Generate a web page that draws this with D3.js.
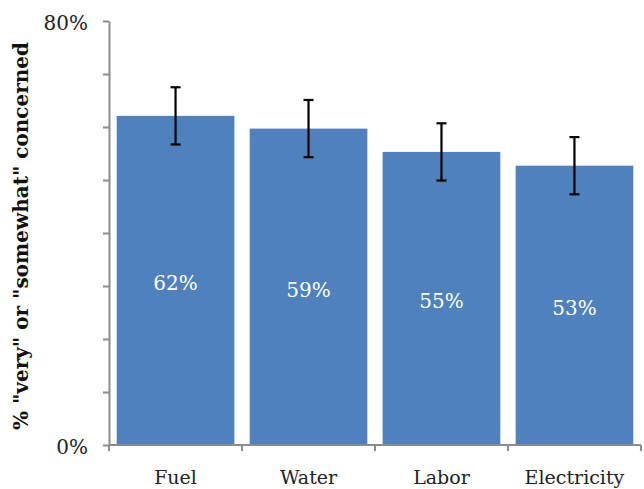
<!DOCTYPE html>
<html>
<head>
<meta charset="utf-8">
<script src="https://cdn.jsdelivr.net/npm/d3@7"></script>
<style>
  body { margin: 0; background: #fff; }
  text { font-family: "DejaVu Serif", "Liberation Serif", serif; }
</style>
</head>
<body>
<svg id="chart" width="644" height="489"></svg>
<script>
// data
var categories = ["Fuel", "Water", "Labor", "Electricity"];
var values = [62.1, 59.7, 55.3, 52.7];
var valueLabels = ["62%", "59%", "55%", "53%"];
var errors = [5.4, 5.4, 5.4, 5.4];
var yTicks = [0, 10, 20, 30, 40, 50, 60, 70, 80];
var yTickLabels = ["0%", "", "", "", "", "", "", "", "80%"];

// plot edges (window.top is taken, so no "top" here)
var plotL = 109, plotR = 641, plotT = 21, plotB = 445;

var svg = d3.select("#chart");

var x = d3.scaleBand()
    .domain(categories)
    .range([plotL, plotR])
    .paddingInner(0.115)
    .paddingOuter(0.058);

var y = d3.scaleLinear()
    .domain([0, 80])
    .range([plotB, plotT]);

var cx = function(i) { return x(categories[i]) + x.bandwidth() / 2; };

// bars
svg.selectAll(".bar")
    .data(values)
    .enter()
    .append("rect")
    .attr("class", "bar")
    .attr("x", function(d, i) { return x(categories[i]); })
    .attr("width", x.bandwidth())
    .attr("y", function(d) { return y(d); })
    .attr("height", function(d) { return y(0) - y(d); })
    .attr("fill", "#4f81bd");

// error bars
var eb = svg.selectAll(".err")
    .data(values)
    .enter()
    .append("g")
    .attr("class", "err")
    .attr("stroke", "#000")
    .attr("stroke-width", 2.2);

eb.append("line")
    .attr("x1", function(d, i) { return cx(i); })
    .attr("x2", function(d, i) { return cx(i); })
    .attr("y1", function(d, i) { return y(d + errors[i]); })
    .attr("y2", function(d, i) { return y(d - errors[i]); });

eb.append("line")
    .attr("x1", function(d, i) { return cx(i) - 5; })
    .attr("x2", function(d, i) { return cx(i) + 5; })
    .attr("y1", function(d, i) { return y(d + errors[i]); })
    .attr("y2", function(d, i) { return y(d + errors[i]); });

eb.append("line")
    .attr("x1", function(d, i) { return cx(i) - 5; })
    .attr("x2", function(d, i) { return cx(i) + 5; })
    .attr("y1", function(d, i) { return y(d - errors[i]); })
    .attr("y2", function(d, i) { return y(d - errors[i]); });

// value labels inside bars
svg.selectAll(".vlabel")
    .data(values)
    .enter()
    .append("text")
    .attr("class", "vlabel")
    .attr("x", function(d, i) { return cx(i); })
    .attr("y", function(d) { return (y(d) + y(0)) / 2 + 10; })
    .attr("text-anchor", "middle")
    .attr("fill", "#fff")
    .attr("font-size", 20)
    .text(function(d, i) { return valueLabels[i]; });

// y axis
var yAxis = svg.append("g")
    .attr("transform", "translate(" + plotL + ",0)")
    .call(d3.axisLeft(y).tickValues(yTicks).tickSize(6).tickSizeOuter(0)
        .tickFormat(function(d, i) { return yTickLabels[i]; }));
yAxis.select(".domain").attr("stroke", "#8c8c8c").attr("stroke-width", 2);
yAxis.selectAll(".tick line").attr("stroke", "#8c8c8c").attr("stroke-width", 2);
yAxis.selectAll(".tick text")
    .attr("font-family", "DejaVu Serif, serif")
    .attr("font-size", 20)
    .attr("fill", "#222")
    .attr("dy", "0.42em")
    .attr("x", -21);

// x axis
var xAxis = svg.append("g")
    .attr("transform", "translate(0," + plotB + ")");
xAxis.append("line")
    .attr("x1", plotL).attr("x2", plotR)
    .attr("stroke", "#8c8c8c").attr("stroke-width", 2);
var boundaries = categories.map(function(c) { return x(c) + x.bandwidth() + x.step() * x.paddingInner() / 2; });
boundaries.unshift(plotL);
xAxis.selectAll(".xt")
    .data(boundaries)
    .enter()
    .append("line")
    .attr("x1", function(d) { return d; })
    .attr("x2", function(d) { return d; })
    .attr("y1", 0).attr("y2", 6)
    .attr("stroke", "#8c8c8c").attr("stroke-width", 2);
xAxis.selectAll(".xl")
    .data(categories)
    .enter()
    .append("text")
    .attr("x", function(d) { return x(d) + x.bandwidth() / 2; })
    .attr("y", 39)
    .attr("text-anchor", "middle")
    .attr("font-size", 19)
    .attr("fill", "#222")
    .text(function(d) { return d; });

// y title
svg.append("text")
    .attr("transform", "translate(28," + ((plotT + plotB) / 2 + 3) + ") rotate(-90)")
    .attr("text-anchor", "middle")
    .attr("font-size", 20)
    .attr("font-weight", "bold")
    .attr("fill", "#111")
    .text('% "very" or "somewhat" concerned');
</script>
</body>
</html>
